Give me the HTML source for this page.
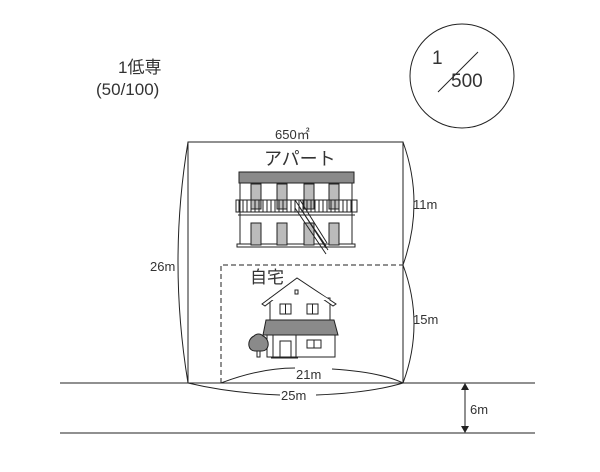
<!DOCTYPE html>
<html><head><meta charset="utf-8"><style>
body{margin:0;background:#fff}
svg text{font-family:"Liberation Sans","Noto Sans CJK JP",sans-serif;fill:#333}
</style></head><body>
<svg width="600" height="467" viewBox="0 0 600 467" xmlns="http://www.w3.org/2000/svg">
<g stroke="#222" fill="none" stroke-width="1">
<circle cx="462" cy="76" r="52"/>
<line x1="438" y1="92" x2="478" y2="52"/>
<line x1="60" y1="383" x2="535" y2="383"/>
<line x1="60" y1="433" x2="535" y2="433"/>
<rect x="188" y="142" width="215" height="241"/>
<path d="M221 383V265H403" stroke-dasharray="5,3"/>
<line x1="465" y1="387" x2="465" y2="429"/>
<path d="M188 142Q168 262 188 383"/>
<path d="M403 142Q425 203 403 265"/>
<path d="M403 265Q425 324 403 383"/>
<path d="M221 383Q260 368 295 368M332 369Q380 372 403 383"/>
<path d="M188 383Q230 393 280 395M316 395Q370 393 403 383"/>
</g>
<path d="M465 383l-4 7h8zM465 433l-4-7h8z" fill="#222"/>
<text x="118" y="73" font-size="17">1低専</text>
<text x="96" y="95" font-size="17">(50/100)</text>
<text x="432" y="64" font-size="19">1</text>
<text x="451" y="87" font-size="19">500</text>
<text x="275" y="139" font-size="13">650㎡</text>
<text x="264" y="165" font-size="18">アパート</text>
<text x="413" y="209" font-size="13">11m</text>
<text x="413" y="324" font-size="13">15m</text>
<text x="150" y="271" font-size="13">26m</text>
<text x="296" y="379" font-size="13">21m</text>
<text x="281" y="400" font-size="13">25m</text>
<text x="470" y="414" font-size="13">6m</text>
<text x="250" y="283" font-size="17">自宅</text>
<!-- apartment -->
<g stroke="#222" stroke-width="1">
<rect x="239" y="172" width="115" height="11" fill="#8a8a8a"/>
<rect x="240" y="183" width="112" height="62" fill="#fff"/>
<rect x="237" y="244" width="118" height="3" fill="#fff"/>
<g fill="#bbb">
<rect x="251" y="184" width="10" height="25"/><rect x="277" y="184" width="10" height="25"/><rect x="304" y="184" width="10" height="25"/><rect x="329" y="184" width="10" height="25"/>
<rect x="251" y="223" width="10" height="22"/><rect x="277" y="223" width="10" height="22"/><rect x="304" y="223" width="10" height="22"/><rect x="329" y="223" width="10" height="22"/>
</g>
<rect x="236" y="200" width="121" height="12" fill="none"/>
<line x1="238" y1="215" x2="355" y2="215"/>
<path d="M239 200v12M243 200v12M247 200v12M251 200v12M255 200v12M259 200v12M263 200v12M267 200v12M271 200v12M275 200v12M279 200v12M283 200v12M287 200v12M291 200v12M295 200v12M299 200v12M303 200v12M307 200v12M311 200v12M315 200v12M319 200v12M323 200v12M327 200v12M331 200v12M335 200v12M339 200v12M343 200v12M347 200v12M351 200v12"/>
<path d="M295 200L328 250M300 200L327 243M295 200v8l31 46M300 208l26 38M304 214l22 33M308 220l18 28" fill="none"/>
</g>
<!-- house -->
<g stroke="#222" stroke-width="1">
<rect x="270" y="298" width="60" height="24" fill="#fff"/>
<path d="M262 304L297 278L336 304L333 306L297 281L265 306Z" fill="#fff"/>
<path d="M270 300L297 280L330 300Z" fill="#fff" stroke="none"/>
<rect x="295" y="290" width="3" height="4" fill="#fff"/>
<rect x="280" y="304" width="11" height="10" fill="#fff"/><rect x="307" y="304" width="11" height="10" fill="#fff"/>
<line x1="285.5" y1="304" x2="285.5" y2="314"/><line x1="312.5" y1="304" x2="312.5" y2="314"/>
<path d="M266 320H334L338 335H263Z" fill="#8a8a8a"/>
<rect x="267" y="335" width="68" height="22" fill="#fff"/>
<rect x="280" y="341" width="11" height="16" fill="#fff"/>
<rect x="307" y="340" width="14" height="8" fill="#fff"/><line x1="314" y1="340" x2="314" y2="348"/>
<line x1="273" y1="335" x2="273" y2="357"/><line x1="296" y1="335" x2="296" y2="357"/>
<line x1="271" y1="358" x2="298" y2="358"/>
<rect x="257" y="347" width="3" height="10" fill="#fff"/>
</g>
<path d="M249 346a9 9 0 0 1 5-10a6 6 0 0 1 9 0a9 9 0 0 1 5 10a6 6 0 0 1-6 5h-7a6 6 0 0 1-6-5z" fill="#8a8a8a" stroke="#222"/>
</svg>
</body></html>
